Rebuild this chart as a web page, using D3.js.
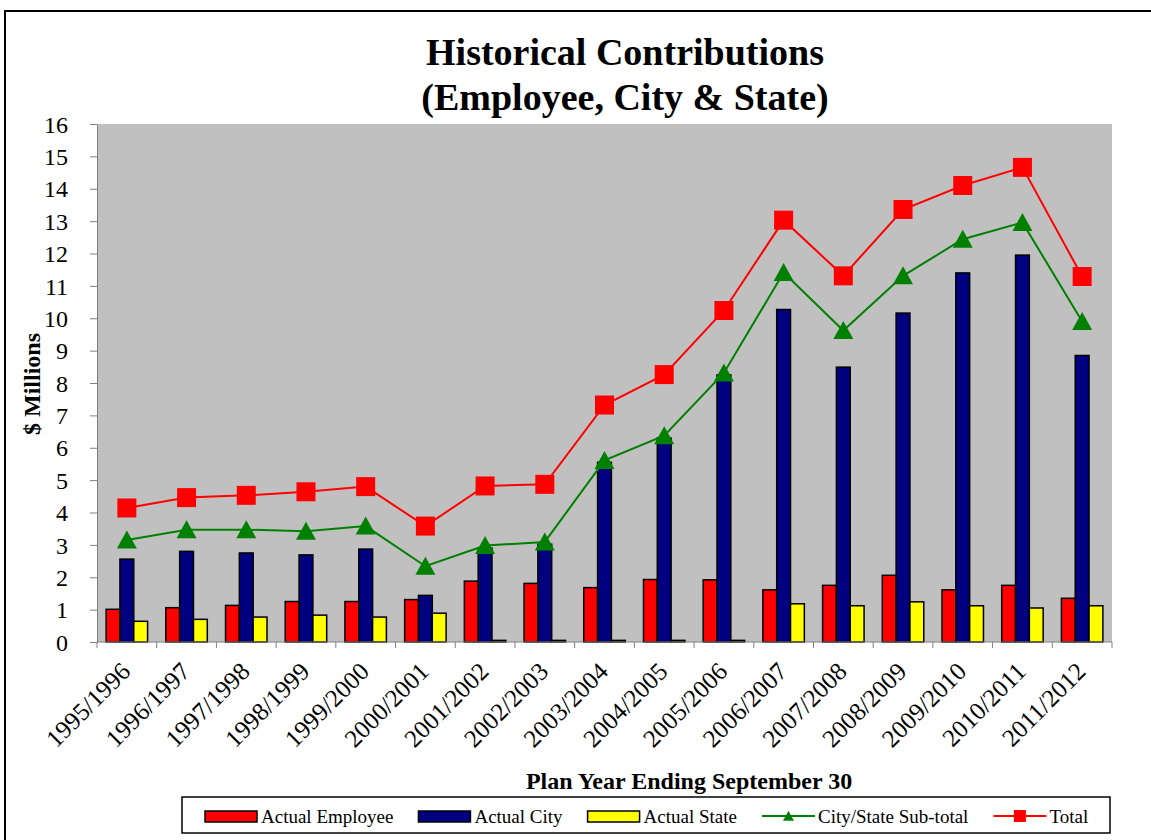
<!DOCTYPE html>
<html>
<head>
<meta charset="utf-8">
<script src="https://cdn.jsdelivr.net/npm/d3@7"></script>
<style>
  body { margin: 0; background: #fff; }
  svg, svg text, svg g { font-family: "Liberation Serif", "Times New Roman", Times, serif !important; }
  svg text { fill: #000; }
  .axis path, .axis line { stroke: #808080; }
</style>
</head>
<body>
<div class="chart"></div>
<script>
// chart values ($ millions)
const years = ["1995/1996", "1996/1997", "1997/1998", "1998/1999", "1999/2000", "2000/2001",
    "2001/2002", "2002/2003", "2003/2004", "2004/2005", "2005/2006", "2006/2007",
    "2007/2008", "2008/2009", "2009/2010", "2010/2011", "2011/2012"];
const employee = [1.01, 1.06, 1.13, 1.25, 1.25, 1.31, 1.88, 1.81, 1.68, 1.93, 1.92, 1.61, 1.75, 2.06, 1.61, 1.75, 1.35];
const city = [2.56, 2.80, 2.75, 2.69, 2.87, 1.44, 2.90, 3.02, 5.55, 6.30, 8.25, 10.27, 8.49, 10.16, 11.40, 11.95, 8.85];
const state = [0.64, 0.70, 0.77, 0.83, 0.77, 0.89, 0.05, 0.05, 0.05, 0.05, 0.05, 1.18, 1.12, 1.24, 1.12, 1.05, 1.12];
const subtotal = [3.15, 3.47, 3.47, 3.42, 3.58, 2.34, 2.98, 3.09, 5.61, 6.37, 8.31, 11.41, 9.62, 11.31, 12.44, 12.96, 9.90];
const total = [4.14, 4.46, 4.53, 4.64, 4.80, 3.58, 4.82, 4.87, 7.32, 8.26, 10.24, 13.03, 11.31, 13.36, 14.10, 14.66, 11.29];
const yTicks = d3.range(0, 17);

const barSeries = [
    { key: "emp", name: "Actual Employee", color: "#FF0000", values: employee },
    { key: "city", name: "Actual City", color: "#000080", values: city },
    { key: "state", name: "Actual State", color: "#FFFF00", values: state }
];
const lineSeries = [
    { key: "sub", name: "City/State Sub-total", color: "#008000", values: subtotal, marker: "tri" },
    { key: "total", name: "Total", color: "#FF0000", values: total, marker: "sq" }
];

const W = 1151, H = 840;
const plot = { left: 97, right: 1112, top: 124, bottom: 642 };
const serif = '"Liberation Serif", "Times New Roman", Times, serif';

const svg = d3.select(".chart").append("svg")
    .attr("width", W)
    .attr("height", H)
    .attr("font-family", serif);

// outer chart border (runs off the right and bottom of the picture)
svg.append("rect")
    .attr("x", 5).attr("y", 11)
    .attr("width", W + 20).attr("height", H + 20)
    .attr("fill", "none")
    .attr("stroke", "#000")
    .attr("stroke-width", 2);

// scales
const xScale = d3.scaleBand()
    .domain(years)
    .range([plot.left, plot.right]);
const xSub = d3.scaleBand()
    .domain(barSeries.map(d => d.key))
    .range([0, xScale.bandwidth()])
    .paddingOuter(0.66);
const yScale = d3.scaleLinear()
    .domain([0, 16])
    .range([plot.bottom, plot.top]);

// plot background
svg.append("rect")
    .attr("x", plot.left).attr("y", plot.top)
    .attr("width", plot.right - plot.left)
    .attr("height", plot.bottom - plot.top)
    .attr("fill", "#C0C0C0");

// bars
barSeries.forEach(s => {
    svg.append("g")
        .selectAll("rect")
        .data(s.values)
        .enter()
        .append("rect")
        .attr("x", (d, i) => xScale(years[i]) + xSub(s.key))
        .attr("y", d => yScale(d))
        .attr("width", xSub.bandwidth())
        .attr("height", d => yScale(0) - yScale(d))
        .attr("fill", s.color)
        .attr("stroke", "#000")
        .attr("stroke-width", 1.5);
});

// y axis
const yAxis = d3.axisLeft(yScale)
    .tickValues(yTicks)
    .tickFormat(d3.format("d"))
    .tickSize(7)
    .tickSizeOuter(0)
    .tickPadding(22);
const yg = svg.append("g")
    .attr("class", "axis")
    .attr("transform", `translate(${plot.left},0)`)
    .call(yAxis)
    .attr("font-family", serif);
yg.selectAll("text")
    .style("font-family", serif)
    .style("font-size", "24px")
    .attr("dy", "0.34em");

// x axis: line plus tick marks between the categories
const xg = svg.append("g").attr("class", "axis");
xg.append("line")
    .attr("x1", plot.left).attr("x2", plot.right)
    .attr("y1", plot.bottom).attr("y2", plot.bottom)
    .attr("stroke", "#808080");
const bounds = years.map(d => xScale(d)).concat([plot.right]);
xg.selectAll(".tk")
    .data(bounds)
    .enter()
    .append("line")
    .attr("x1", d => d).attr("x2", d => d)
    .attr("y1", plot.bottom).attr("y2", plot.bottom + 6)
    .attr("stroke", "#808080");
svg.append("g")
    .selectAll("text")
    .data(years)
    .enter()
    .append("text")
    .attr("transform", d => `translate(${xScale(d) + xScale.bandwidth() / 2 + 5},${plot.bottom + 31}) rotate(-45)`)
    .attr("text-anchor", "end")
    .style("font-family", serif)
    .style("font-size", "25px")
    .text(d => d);

// lines and markers
const line = d3.line()
    .x((d, i) => xScale(years[i]) + xScale.bandwidth() / 2)
    .y(d => yScale(d));
lineSeries.forEach(s => {
    svg.append("path")
        .datum(s.values)
        .attr("d", line)
        .attr("fill", "none")
        .attr("stroke", s.color)
        .attr("stroke-width", 2);
});
function markerPath(type, r) {
    if (type === "sq") return `M${-r},${-r}H${r}V${r}H${-r}Z`;
    return `M0,${-r * 0.95}L${r},${r * 0.85}L${-r},${r * 0.85}Z`;
}
lineSeries.forEach(s => {
    svg.append("g")
        .selectAll("path")
        .data(s.values)
        .enter()
        .append("path")
        .attr("transform", (d, i) => `translate(${xScale(years[i]) + xScale.bandwidth() / 2},${yScale(d)})`)
        .attr("d", markerPath(s.marker, s.marker === "sq" ? 9.5 : 10))
        .attr("fill", s.color);
});

// titles
function label(x, y, size, bold, txt, rot) {
    return svg.append("text")
        .attr("transform", `translate(${x},${y})` + (rot ? ` rotate(${rot})` : ""))
        .attr("text-anchor", "middle")
        .style("font-family", serif)
        .style("font-size", size + "px")
        .style("font-weight", bold ? "bold" : "normal")
        .text(txt);
}
label(625, 65, 38, true, "Historical Contributions");
label(625, 110, 38, true, "(Employee, City & State)");
label(40, 384, 24, true, "$ Millions", -90);
label(689, 789, 24, true, "Plan Year Ending September 30");

// legend
const legend = svg.append("g").attr("class", "legend");
legend.append("rect")
    .attr("x", 182).attr("y", 797)
    .attr("width", 928).attr("height", 36)
    .attr("fill", "#fff")
    .attr("stroke", "#000")
    .attr("stroke-width", 1.5);
let lx = 205;
const ly = 816;
barSeries.concat(lineSeries).forEach(s => {
    if (s.marker) {
        legend.append("line")
            .attr("x1", lx).attr("x2", lx + 53)
            .attr("y1", ly).attr("y2", ly)
            .attr("stroke", s.color)
            .attr("stroke-width", 2);
        legend.append("path")
            .attr("transform", `translate(${lx + 26.5},${ly})`)
            .attr("d", markerPath(s.marker, s.marker === "sq" ? 6 : 5.5))
            .attr("fill", s.color);
    } else {
        legend.append("rect")
            .attr("x", lx).attr("y", ly - 5)
            .attr("width", 52).attr("height", 11)
            .attr("fill", s.color)
            .attr("stroke", "#000")
            .attr("stroke-width", 1.5);
    }
    const t = legend.append("text")
        .attr("x", lx + 56).attr("y", ly + 6.5)
        .style("font-family", serif)
        .style("font-size", "19px")
        .text(s.name);
    lx += 56 + t.node().getComputedTextLength() + 25;
});
</script>
</body>
</html>
